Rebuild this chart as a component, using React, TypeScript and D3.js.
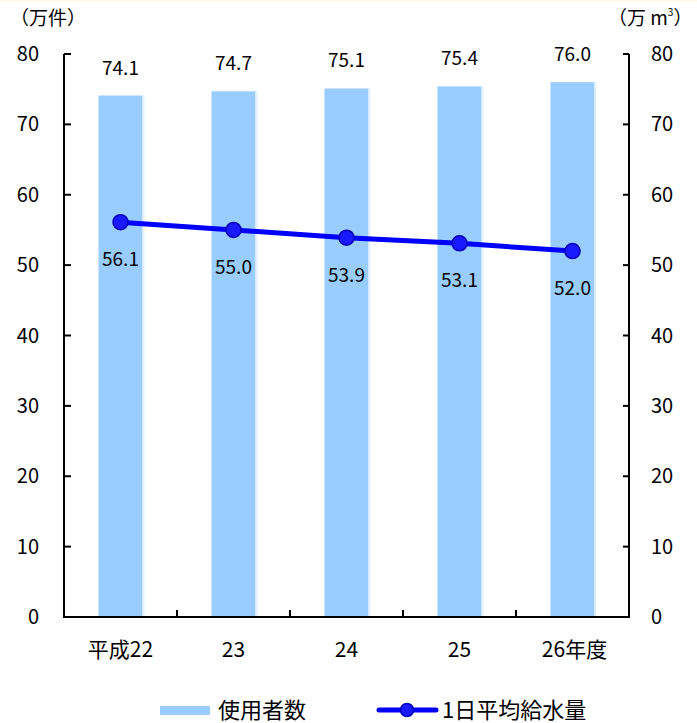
import React from "react";
import * as d3 from "d3";

const categories = ["平成22", "23", "24", "25", "26年度"];
const users = [74.1, 74.7, 75.1, 75.4, 76.0];
const water = [56.1, 55.0, 53.9, 53.1, 52.0];
const yTicks = [0, 10, 20, 30, 40, 50, 60, 70, 80];

const W = 697, H = 723;
const left = 64, right = 629, top = 54, bottom = 617;
const FONT = "'Noto Sans CJK JP', 'Noto Sans', sans-serif";

export default function App() {
  const x = d3.scaleBand<string>().domain(categories).range([left, right]);
  const y = d3.scaleLinear().domain([0, 80]).range([bottom, top]);
  const barW = 44;
  const line = d3.line<number>().x((_, i) => x(categories[i])! + x.bandwidth() / 2).y((d) => y(d));
  return (
    <svg width={W} height={H} style={{ position: "absolute", left: 0, top: 0, fontFamily: FONT }}>
      <rect width={W} height={H} fill="#fff" />
      <rect width={W} height={2} fill="#fffbe6" />
      {/* bars */}
      {users.map((v, i) => {
        const cx = x(categories[i])! + x.bandwidth() / 2;
        return (
          <g key={i}>
            <rect x={cx - barW / 2} y={y(v)} width={barW} height={bottom - y(v)} fill="#99ccff" />
            <rect x={cx + barW / 2} y={y(v)} width={2} height={bottom - y(v)} fill="#e2f0ff" />
            <text x={cx} y={y(v) - 21} textAnchor="middle" fontSize={19}>{v.toFixed(1)}</text>
          </g>
        );
      })}
      {/* axes */}
      <path d={`M${left},${top}V${bottom}H${right}V${top}`} fill="none" stroke="#000" strokeWidth={2} />
      {yTicks.map((t) => (
        <g key={t}>
          <line x1={left} x2={left + 7} y1={y(t)} y2={y(t)} stroke="#000" strokeWidth={2} />
          <line x1={right - 6} x2={right} y1={y(t)} y2={y(t)} stroke="#000" strokeWidth={2} />
          <text x={39} y={y(t) + 7} textAnchor="end" fontSize={20}>{t}</text>
          <text x={651} y={y(t) + 7} textAnchor="start" fontSize={20}>{t}</text>
        </g>
      ))}
      {categories.slice(1).map((c) => (
        <line key={c} x1={x(c)!} x2={x(c)!} y1={bottom} y2={bottom - 7} stroke="#000" strokeWidth={2} />
      ))}
      {categories.map((c) => (
        <text key={c} x={x(c)! + x.bandwidth() / 2 + (c === "26年度" ? 2 : 0)} y={bottom + 40} textAnchor="middle" fontSize={21}>{c}</text>
      ))}
      <text x={10} y={25} fontSize={19}>（万件）</text>
      <text x={608} y={25} fontSize={19}>（万 m<tspan fontSize={10} dy={-9}>3</tspan><tspan dy={9}>）</tspan></text>
      {/* line */}
      <path d={line(water)!} fill="none" stroke="#0000ff" strokeWidth={5} />
      {water.map((v, i) => {
        const cx = x(categories[i])! + x.bandwidth() / 2;
        return (
          <g key={i}>
            <circle cx={cx} cy={y(v)} r={7.5} fill="#1a1aff" stroke="#0000bb" strokeWidth={1.5} />
            <text x={cx} y={y(v) + 44} textAnchor="middle" fontSize={19}>{v.toFixed(1)}</text>
          </g>
        );
      })}
      {/* legend */}
      <rect x={160} y={706} width={50} height={9} fill="#99ccff" />
      <text x={218} y={718} fontSize={22}>使用者数</text>
      <line x1={379} x2={436} y1={710} y2={710} stroke="#0000ff" strokeWidth={5} strokeLinecap="round" />
      <circle cx={407} cy={710} r={6.5} fill="#1a1aff" stroke="#0000bb" strokeWidth={1.5} />
      <text x={442} y={718} fontSize={22}>1日平均給水量</text>
    </svg>
  );
}
